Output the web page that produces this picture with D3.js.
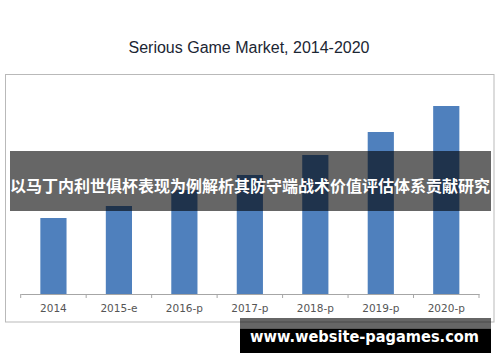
<!DOCTYPE html>
<html>
<head>
<meta charset="utf-8">
<script src="https://cdn.jsdelivr.net/npm/d3@7"></script>
<style>
  body { margin: 0; background: #fff; }
  svg { display: block; }
</style>
</head>
<body>
<div id="chart"></div>
<script>
var categories = ["2014", "2015-e", "2016-p", "2017-p", "2018-p", "2019-p", "2020-p"];
var values = [3.8, 4.4, 5.2, 5.95, 6.95, 8.1, 9.4];
var titleText = "Serious Game Market, 2014-2020";
var bannerText = "以马丁内利世俱杯表现为例解析其防守端战术价值评估体系贡献研究";
var siteText = "www.website-pagames.com";

var svg = d3.select("#chart").append("svg").attr("width", 500).attr("height", 362);

svg.append("text")
  .attr("x", 249).attr("y", 52.5)
  .attr("text-anchor", "middle")
  .style("font-family", "'Liberation Sans', Arial, sans-serif")
  .style("font-size", "16px")
  .style("fill", "#1b2633")
  .text(titleText);

// frame round the plot
svg.append("rect")
  .attr("x", 5.5).attr("y", 74.5)
  .attr("width", 488.5).attr("height", 247.5)
  .style("fill", "#fff")
  .style("stroke", "#b9b9b9")
  .style("stroke-width", "1px");

var x = d3.scaleBand().domain(categories).range([20.7, 479]).paddingInner(0.6).paddingOuter(0.3);
var y = d3.scaleLinear().domain([0, 10]).range([294, 94]);

svg.selectAll(".bar")
  .data(values)
  .enter().append("rect")
  .attr("class", "bar")
  .attr("x", function(d, i){ return x(categories[i]); })
  .attr("width", x.bandwidth())
  .attr("y", function(d){ return y(d); })
  .attr("height", function(d){ return y(0) - y(d); })
  .style("fill", "#4f80bd");

var xAxis = d3.axisBottom(x).tickSize(0).tickPadding(11);
var gx = svg.append("g").attr("transform", "translate(0,294)").call(xAxis);
gx.select(".domain").style("stroke", "#a6a6a6");
gx.selectAll("text")
  .style("font-family", "'DejaVu Sans', Verdana, sans-serif")
  .style("font-size", "10.5px")
  .style("fill", "#555");

// tick marks sit between the bands
var step = x.step();
var edges = d3.range(categories.length + 1).map(function(i){ return 20.7 + i * step; });
gx.selectAll(".sep")
  .data(edges)
  .enter().append("line")
  .attr("class", "sep")
  .attr("x1", function(d){ return d; }).attr("x2", function(d){ return d; })
  .attr("y1", 0).attr("y2", 4)
  .style("stroke", "#a6a6a6");

// dark banner with caption
svg.append("rect")
  .attr("x", 10).attr("y", 151)
  .attr("width", 481).attr("height", 60)
  .style("fill", "rgba(0,0,0,0.6)");

svg.append("text")
  .attr("x", 250).attr("y", 191.5)
  .attr("text-anchor", "middle")
  .style("font-family", "'Noto Sans CJK SC', sans-serif")
  .style("font-weight", "bold")
  .style("font-size", "16px")
  .style("fill", "#fff")
  .text(bannerText);

// site tag, bottom right
svg.append("rect")
  .attr("x", 240).attr("y", 318)
  .attr("width", 251).attr("height", 10.5)
  .style("fill", "rgba(0,0,0,0.6)");
svg.append("rect")
  .attr("x", 240).attr("y", 328.5)
  .attr("width", 251).attr("height", 24.5)
  .style("fill", "#000");

svg.append("text")
  .attr("x", 250).attr("y", 342)
  .attr("textLength", 229)
  .attr("lengthAdjust", "spacingAndGlyphs")
  .style("font-family", "'DejaVu Sans', Verdana, sans-serif")
  .style("font-weight", "bold")
  .style("font-size", "15px")
  .style("fill", "#fff")
  .text(siteText);
</script>
</body>
</html>
